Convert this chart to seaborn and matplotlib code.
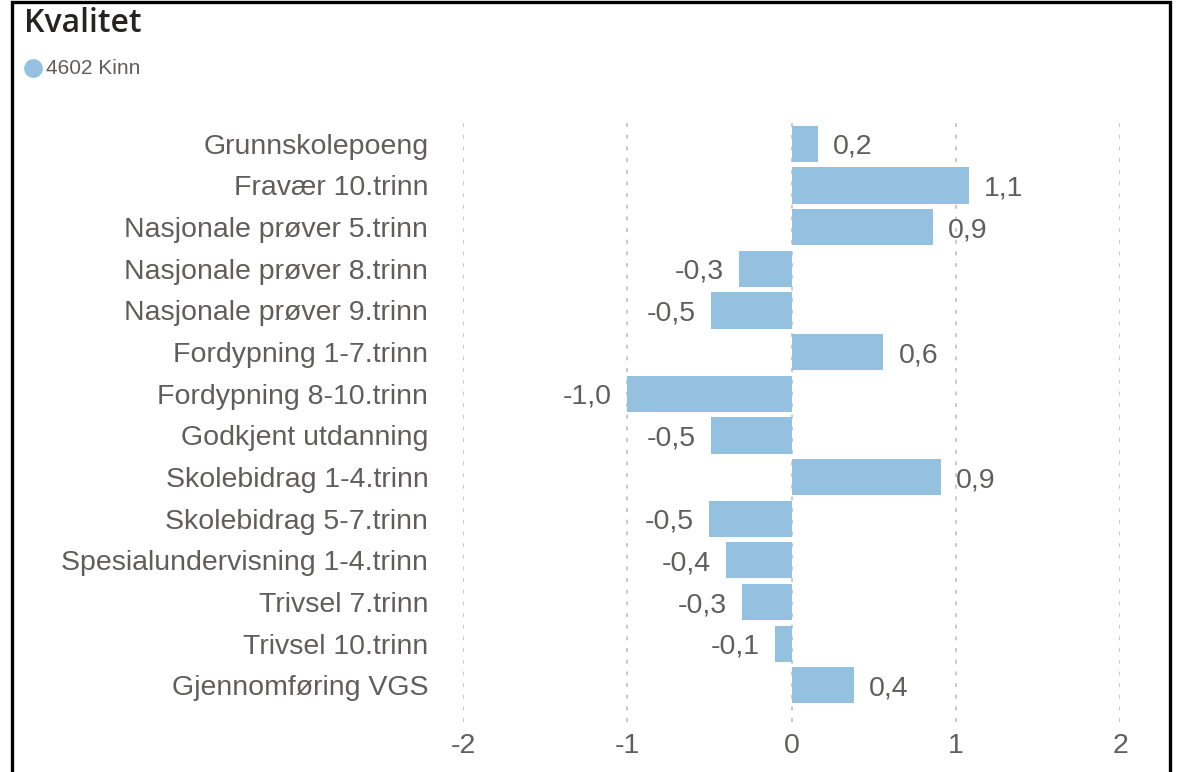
import numpy as np
import pandas as pd
import matplotlib
matplotlib.use("Agg")
import matplotlib.pyplot as plt
from matplotlib.patches import Rectangle
from matplotlib.lines import Line2D
import seaborn as sns

indikatorer = [
    "Grunnskolepoeng",
    "Fravær 10.trinn",
    "Nasjonale prøver 5.trinn",
    "Nasjonale prøver 8.trinn",
    "Nasjonale prøver 9.trinn",
    "Fordypning 1-7.trinn",
    "Fordypning 8-10.trinn",
    "Godkjent utdanning",
    "Skolebidrag 1-4.trinn",
    "Skolebidrag 5-7.trinn",
    "Spesialundervisning 1-4.trinn",
    "Trivsel 7.trinn",
    "Trivsel 10.trinn",
    "Gjennomføring VGS",
]
verdier = [0.16, 1.08, 0.86, -0.32, -0.49, 0.56, -1.00, -0.49, 0.91, -0.50, -0.40, -0.30, -0.10, 0.38]
x_ticks = [-2, -1, 0, 1, 2]
kommune = "4602 Kinn"

BAR = "#95C1E1"
GREY = "#605E5C"

df = pd.DataFrame({"indikator": indikatorer, "verdi": verdier})

sns.set_theme(style="white")
plt.rcParams["font.family"] = ["Liberation Sans", "DejaVu Sans"]

fig = plt.figure(figsize=(11.81, 7.72), dpi=100)
ax = fig.add_axes([463 / 1181, 1 - 722 / 772, 657 / 1181, 604 / 772])

sns.barplot(data=df, x="verdi", y="indikator", color=BAR, saturation=1,
            width=0.87, orient="h", linewidth=0, ax=ax)

ax.set_xlim(-2, 2)
ax.set_ylim(13.88, -0.62)
ax.set_xticks(x_ticks)
ax.set_xticklabels([str(t) for t in x_ticks])
for t in x_ticks:
    ax.axvline(t, color="#C8C8C8", lw=1.4, ls=(0, (2, 4)), zorder=0)

for s in ax.spines.values():
    s.set_visible(False)
ax.set_xlabel("")
ax.set_ylabel("")
ax.tick_params(axis="y", length=0, pad=25, labelsize=20.5, labelcolor=GREY)
ax.tick_params(axis="x", length=0, pad=8, labelsize=20.5, labelcolor=GREY)

for i, v in enumerate(verdier):
    txt = f"{v:.1f}".replace(".", ",")
    if v >= 0:
        ax.annotate(txt, (v, i), xytext=(11, 0), textcoords="offset points",
                    ha="left", va="center_baseline", fontsize=20.5, color=GREY)
    else:
        ax.annotate(txt, (v, i), xytext=(-11, 0), textcoords="offset points",
                    ha="right", va="center_baseline", fontsize=20.5, color=GREY)

# title and legend
fig.text(24 / 1181, 1 - 23 / 772, "Kvalitet", fontsize=23, color="#252423",
         family=["Open Sans", "DejaVu Sans"], weight="semibold",
         ha="left", va="center")
fig.add_artist(Line2D([33 / 1181], [1 - 68 / 772], transform=fig.transFigure,
                      marker="o", markersize=12.5, color=BAR, linestyle="none"))
fig.text(46 / 1181, 1 - 68 / 772, kommune, fontsize=15, color=GREY,
         ha="left", va="center")

# frame
fig.patches.append(Rectangle((11.5 / 1181, -0.05), (1170 - 11.5) / 1181, 1.05 - 1.5 / 772,
                             transform=fig.transFigure, fill=False,
                             edgecolor="black", linewidth=2.4))

fig.savefig("out.png", dpi=100)
